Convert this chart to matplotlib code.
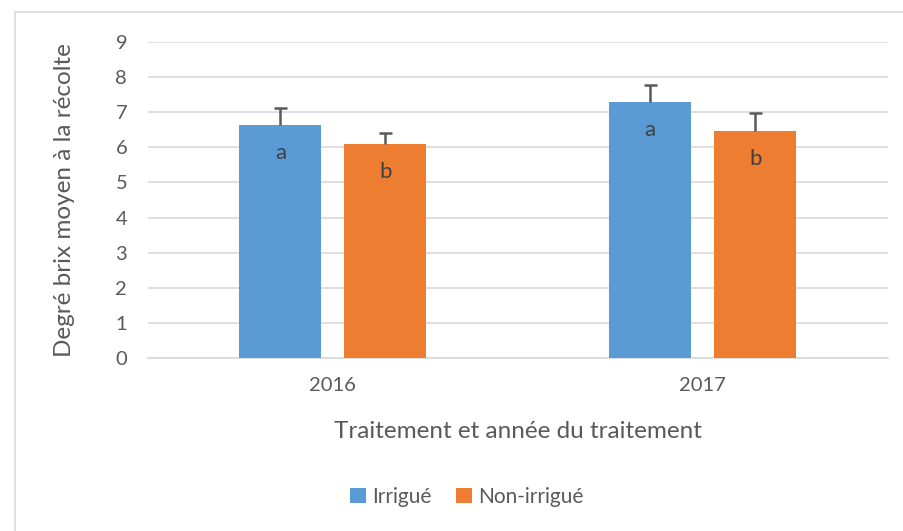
import matplotlib.pyplot as plt
import numpy as np
from matplotlib.patches import Rectangle

years = ["2016", "2017"]
irrigue = [6.63, 7.28]
irrigue_err = [0.48, 0.49]
non_irrigue = [6.10, 6.47]
non_irrigue_err = [0.31, 0.52]
irrigue_letters = ["a", "a"]
non_irrigue_letters = ["b", "b"]

plt.rcParams["font.family"] = ["Lato", "DejaVu Sans"]
TEXT = "#595959"
GRID = "#D9D9D9"

fig = plt.figure(figsize=(9.04, 5.31), dpi=100)
ax = fig.add_axes([0.1637, 0.3258, 0.8183, 0.5951])

x = np.arange(len(years))
w = 0.222
off = 0.142
cap = 0.018


def draw_series(pos, vals, errs, letters, color, label):
    ax.bar(pos, vals, w, color=color, label=label, zorder=3)
    tops = np.array(vals) + np.array(errs)
    # only the upper half of the error bar, as in the original
    ax.vlines(pos, vals, tops, color=TEXT, lw=1.8, zorder=4)
    ax.hlines(tops, pos - cap, pos + cap, color=TEXT, lw=1.8, zorder=4)
    for p, v, t in zip(pos, vals, letters):
        ax.text(p, v - 0.8, t, ha="center", va="center", fontsize=16, color="#404040", zorder=5)


draw_series(x - off, irrigue, irrigue_err, irrigue_letters, "#5B9BD5", "Irrigué")
draw_series(x + off, non_irrigue, non_irrigue_err, non_irrigue_letters, "#ED7D31", "Non-irrigué")

ax.set_xlim(-0.5, 1.5)
ax.set_ylim(0, 9)
ax.set_yticks(range(10))
ax.set_xticks(x)
ax.set_xticklabels(years)
ax.yaxis.grid(True, color=GRID, lw=1.2, zorder=0)
ax.tick_params(axis="both", length=0, labelsize=14.5, labelcolor=TEXT)
ax.tick_params(axis="x", pad=14)
ax.tick_params(axis="y", pad=15)
for s in ["top", "right", "left"]:
    ax.spines[s].set_visible(False)
ax.spines["bottom"].set_color(GRID)
ax.spines["bottom"].set_linewidth(1.2)

ax.set_xlabel("Traitement et année du traitement", fontsize=17.5, color=TEXT, labelpad=19)
ax.set_ylabel("Degré brix moyen à la récolte", fontsize=17.5, color=TEXT, labelpad=29)

fig.legend(loc="center", bbox_to_anchor=(467 / 904, 1 - 497 / 531), ncol=2, frameon=False,
           fontsize=15, labelcolor=TEXT, handlelength=0.75, handleheight=0.75,
           handletextpad=0.3, columnspacing=1.2)

fig.patches.append(Rectangle((15 / 904, -0.05), 1.0, 1 - 12 / 531 + 0.05, transform=fig.transFigure,
                             fill=False, edgecolor=GRID, lw=1.2))

fig.savefig("out.png", dpi=100)
